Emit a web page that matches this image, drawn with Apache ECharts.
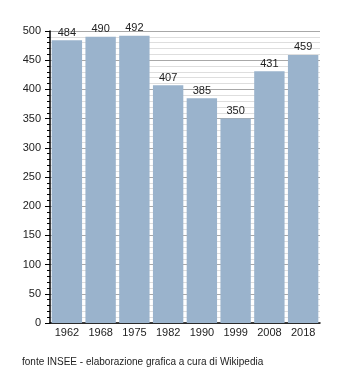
<!DOCTYPE html>
<html>
<head>
<meta charset="utf-8">
<script src="https://cdn.jsdelivr.net/npm/echarts@6/dist/echarts.min.js"></script>
<style>
  html, body { margin: 0; padding: 0; background: #fff; }
  #chart { width: 350px; height: 373px; }
</style>
</head>
<body>
<div id="chart"></div>
<script>
// Census years and population counts
const years = ['1962', '1968', '1975', '1982', '1990', '1999', '2008', '2018'];
const population = [484, 490, 492, 407, 385, 350, 431, 459];
const yTicks = { min: 0, max: 500, step: 50 };
const sourceNote = 'fonte INSEE - elaborazione grafica a cura di Wikipedia';

const chart = echarts.init(document.getElementById('chart'), null, { renderer: 'canvas' });
const font = 'Liberation Sans, Arial, sans-serif';

chart.setOption({
  animation: false,
  backgroundColor: '#ffffff',
  grid: { left: 50, right: 30, top: 31, bottom: 50, containLabel: false },
  xAxis: {
    type: 'category',
    data: years,
    axisLine: { show: true, lineStyle: { color: '#000', width: 1.5 } },
    axisTick: { show: false },
    axisLabel: { color: '#222', fontSize: 11, fontFamily: font, margin: 4 },
    splitLine: { show: false }
  },
  yAxis: {
    type: 'value',
    min: yTicks.min,
    max: yTicks.max,
    interval: yTicks.step,
    axisLine: { show: true, lineStyle: { color: '#000', width: 1.5 } },
    axisTick: { show: true, length: 5, lineStyle: { color: '#000' } },
    minorTick: { show: true, splitNumber: 5, length: 3, lineStyle: { color: '#000' } },
    axisLabel: { color: '#222', fontSize: 11, fontFamily: font, margin: 9 },
    splitLine: { show: true, lineStyle: { color: '#a8a8a8', width: 1 } },
    minorSplitLine: { show: true, lineStyle: { color: '#dedede', width: 1 } }
  },
  series: [{
    type: 'bar',
    data: population,
    barCategoryGap: '10%',
    itemStyle: { color: '#9ab3cc' },
    label: {
      show: true,
      position: 'top',
      distance: 2,
      color: '#222',
      fontSize: 11,
      fontFamily: font
    }
  }],
  graphic: [{
    type: 'text',
    left: 22,
    top: 357,
    style: { text: sourceNote, fill: '#222', fontSize: 10, fontFamily: font }
  }]
});
</script>
</body>
</html>
